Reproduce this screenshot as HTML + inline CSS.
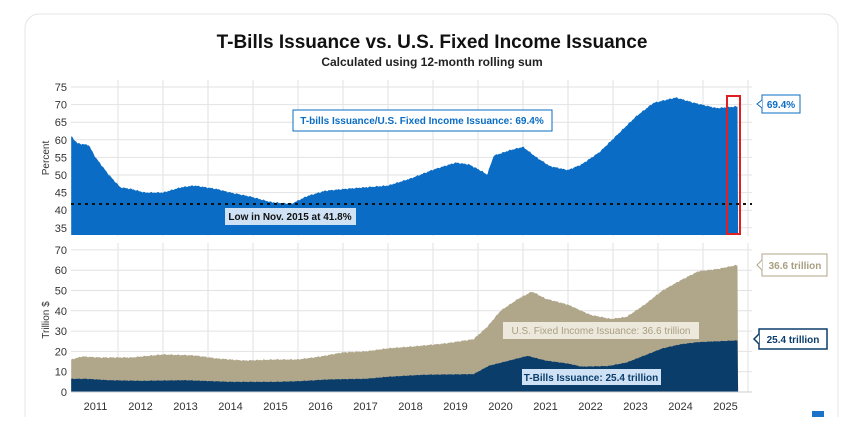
<!DOCTYPE html>
<html><head><meta charset="utf-8"><style>
body{margin:0;background:#fff;width:864px;height:417px;overflow:hidden;font-family:"Liberation Sans",sans-serif}
</style></head><body>
<svg id="s" width="864" height="417" xmlns="http://www.w3.org/2000/svg" font-family="Liberation Sans, sans-serif">
<rect x="25" y="14" width="813" height="420" rx="14" fill="#fff" stroke="#e4e4e4"/>
<text x="432" y="48" text-anchor="middle" font-size="19" font-weight="bold" fill="#111">T-Bills Issuance vs. U.S. Fixed Income Issuance</text>
<text x="432" y="66" text-anchor="middle" font-size="12" font-weight="bold" fill="#222">Calculated using 12-month rolling sum</text>
<g id="grid" stroke="#e2e2e2" stroke-width="1"></g>
<g id="areas"></g>
<line x1="71" y1="204" x2="752" y2="204" stroke="#111" stroke-width="2" stroke-dasharray="3,4"/>
<rect x="727" y="96" width="13" height="138" fill="none" stroke="#e02020" stroke-width="2"/>
<g id="ticks" font-size="11" fill="#333"></g>
<text transform="translate(49,158) rotate(-90)" text-anchor="middle" font-size="10" fill="#333">Percent</text>
<text transform="translate(49,320) rotate(-90)" text-anchor="middle" font-size="10" fill="#333">Trillion $</text>
<rect x="293" y="110" width="259" height="21" fill="#fff" stroke="#0a6cc4"/>
<text x="422" y="124" text-anchor="middle" font-size="10" font-weight="bold" fill="#0a6cc4">T-bills Issuance/U.S. Fixed Income Issuance: 69.4%</text>
<rect x="225" y="208" width="131" height="17" fill="#cfe2f5"/>
<text x="290" y="220" text-anchor="middle" font-size="10" font-weight="bold" fill="#111">Low in Nov. 2015 at 41.8%</text>
<rect x="762" y="95" width="38" height="18" fill="#fff" stroke="#0a6cc4"/>
<polyline points="762,100 757,104 762,108" fill="#fff" stroke="#0a6cc4"/>
<text x="781" y="108" text-anchor="middle" font-size="10" font-weight="bold" fill="#0a6cc4">69.4%</text>
<rect x="762" y="254" width="65" height="22" fill="#fff" stroke="#b0a68a"/>
<polyline points="762,260 757,265 762,270" fill="#fff" stroke="#b0a68a"/>
<text x="795" y="269" text-anchor="middle" font-size="10" font-weight="bold" fill="#a89e80">36.6 trillion</text>
<rect x="759" y="329" width="68" height="20" fill="#fff" stroke="#0b3d6b" stroke-width="1.5"/>
<polyline points="759,334 754,339 759,344" fill="#fff" stroke="#0b3d6b" stroke-width="1.5"/>
<text x="793" y="343" text-anchor="middle" font-size="10" font-weight="bold" fill="#0b3d6b">25.4 trillion</text>
<rect x="503" y="322" width="196" height="17" fill="#ece8dc"/>
<text x="601" y="334" text-anchor="middle" font-size="10" fill="#a89e80">U.S. Fixed Income Issuance: 36.6 trillion</text>
<rect x="522" y="369" width="139" height="16" fill="#cfe2f5"/>
<text x="591" y="381" text-anchor="middle" font-size="10" font-weight="bold" fill="#0b3d6b">T-Bills Issuance: 25.4 trillion</text>
<rect x="812" y="411" width="12" height="6" fill="#1a73c8"/>
</svg>
<script>
const X=t=>118+(t-2012)*45;
const YT=v=>87+(75-v)*3.52;
const YB=v=>392-v*2.03;
const NS="http://www.w3.org/2000/svg";
function el(p,tag,a){const e=document.createElementNS(NS,tag);for(const k in a)e.setAttribute(k,a[k]);p.appendChild(e);return e;}
const g=document.getElementById('grid');
for(let y=2012;y<=2026;y++){el(g,'line',{x1:X(y),y1:80,x2:X(y),y2:236});el(g,'line',{x1:X(y),y1:243,x2:X(y),y2:392});}
for(let v=35;v<=75;v+=5)el(g,'line',{x1:71,y1:YT(v),x2:752,y2:YT(v)});
for(let v=0;v<=70;v+=10)el(g,'line',{x1:71,y1:YB(v),x2:752,y2:YB(v)});
const tk=document.getElementById('ticks');
for(let v=35;v<=75;v+=5){const t=el(tk,'text',{x:67,y:YT(v)+4,'text-anchor':'end'});t.textContent=v;}
for(let v=0;v<=70;v+=10){const t=el(tk,'text',{x:67,y:YB(v)+4,'text-anchor':'end'});t.textContent=v;}
for(let y=2011;y<=2025;y++){const t=el(tk,'text',{x:X(y+0.5),y:410,'text-anchor':'middle'});t.textContent=y;}
function interp(pts,t){for(let i=0;i<pts.length-1;i++){if(t<=pts[i+1][0]){const [a,b]=pts[i],[c,d]=pts[i+1];return b+(d-b)*(t-a)/(c-a);}}return pts[pts.length-1][1];}
const t0=2010.96,t1=2025.78;
const P=[[2010.96,61],[2011.1,59],[2011.35,58.5],[2011.5,55],[2011.8,50],[2012.05,46.5],[2012.3,46],[2012.6,45],[2013,45],[2013.4,46.5],[2013.7,47],[2014.2,46],[2014.5,45],[2014.9,44],[2015.4,42.3],[2015.85,41.8],[2016.2,44],[2016.6,45.5],[2017,46],[2017.5,46.5],[2018,47],[2018.5,49],[2019,51.5],[2019.5,53.5],[2019.8,53],[2020.1,51],[2020.2,50],[2020.35,55.5],[2020.7,57],[2021.0,58],[2021.3,55],[2021.6,52.5],[2022.0,51.4],[2022.3,53],[2022.7,56.5],[2023.1,61.5],[2023.5,66.5],[2023.9,70.5],[2024.4,72],[2024.8,70.5],[2025.3,69],[2025.78,69.5]];
const F=[[2010.96,16],[2011.2,17.5],[2011.6,17],[2012.3,17],[2013,18.5],[2013.7,18],[2014.2,16.5],[2014.8,15.5],[2015.5,16],[2016,16],[2016.5,17.5],[2017,19.5],[2017.5,20],[2018,21.5],[2018.6,22.5],[2019.3,24],[2019.9,26],[2020.2,32],[2020.5,40],[2020.9,46],[2021.2,49.5],[2021.5,46],[2022,43],[2022.5,38],[2022.95,36],[2023.3,37],[2023.7,43],[2024.1,50],[2024.5,55],[2024.9,59.5],[2025.3,60.5],[2025.75,62.5],[2025.78,62]];
const T=[[2010.96,6.5],[2011.3,6.5],[2011.8,5.8],[2012.5,5.5],[2013.5,5.8],[2014.5,5],[2015.5,5],[2016,5.3],[2016.7,6.2],[2017.5,6.5],[2018,7.5],[2018.8,8.5],[2019.9,8.8],[2020.25,13],[2020.7,15.5],[2021.1,17.8],[2021.5,15.5],[2022,14],[2022.3,12.5],[2022.9,12.8],[2023.3,14.5],[2023.7,18],[2024.1,21.5],[2024.5,23.5],[2024.9,24.6],[2025.78,25.4]];
function area(pts,Y,base,fill,noise){let d=`M${X(t0)},${base}`;let i=0;for(let t=t0;t<=t1+1e-6;t+=1/36){i++;const n=noise*(Math.sin(i*2.3)*0.6+Math.sin(i*5.1)*0.4);d+=` L${X(t).toFixed(1)},${(Y(interp(pts,t))+n).toFixed(1)}`;}d+=` L${X(t1)},${base}Z`;el(document.getElementById('areas'),'path',{d,fill});}
area(P,YT,235,'#0a6cc4',0.8);
area(F,YB,392,'#b0a68a',0.7);
area(T,YB,392,'#0b3d6b',0.4);
el(document.getElementById('areas'),'line',{x1:71,y1:392,x2:752,y2:392,stroke:'#ccc'});
</script>
</body></html>
